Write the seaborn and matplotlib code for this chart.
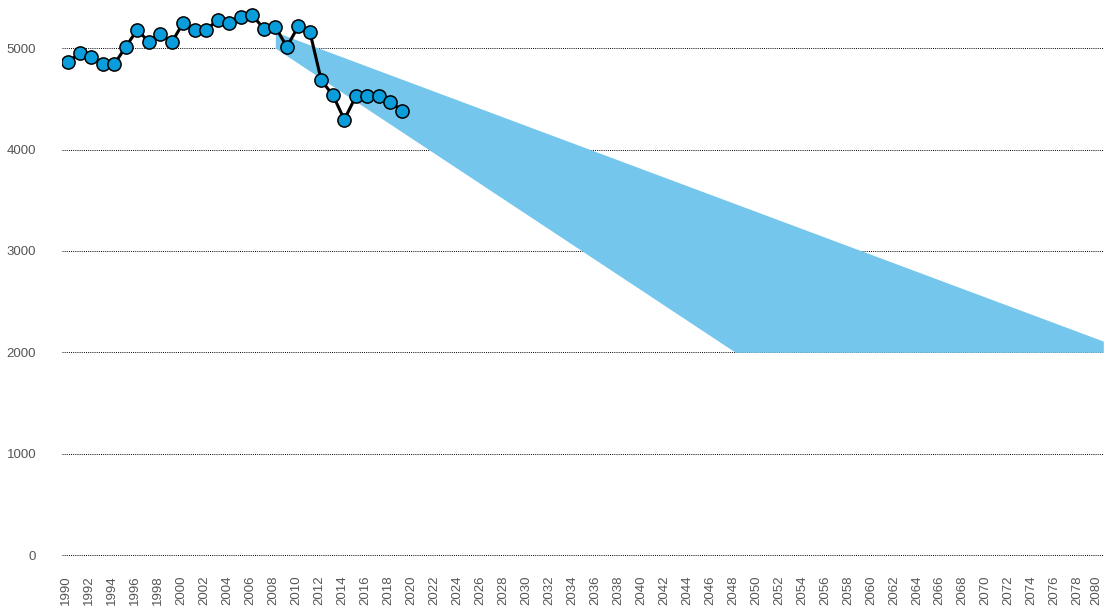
import matplotlib
matplotlib.use("Agg")
import matplotlib.pyplot as plt
import matplotlib.transforms as mtransforms
import seaborn as sns
import pandas as pd

years = list(range(1990, 2020))
values = [4862, 4955, 4911, 4843, 4843, 5013, 5183, 5059, 5144, 5059,
          5252, 5180, 5180, 5281, 5252, 5311, 5324, 5193, 5212, 5013,
          5216, 5163, 4681, 4538, 4295, 4525, 4531, 4525, 4472, 4383]

band_years = [2008, 2048, 2080]
band_low = [5000, 2000, 2000]
band_high = [5160, 3465, 2110]

tick_years = list(range(1990, 2081, 2))
y_ticks = [0, 1000, 2000, 3000, 4000, 5000]

sns.set_theme(style="white")
plt.rcParams['font.family'] = ['Liberation Sans', 'DejaVu Sans']

fig = plt.figure(figsize=(11.04, 6.06), dpi=100)
ax = fig.add_axes([62/1104, 1 - 555/606, (1104 - 62)/1104, 555/606])

for y in y_ticks:
    ax.axhline(y, color="black", linestyle=(0, (1, 1.2)), linewidth=0.7, zorder=1, clip_on=False)

ax.fill_between(band_years, band_low, band_high, color="#74C6EC", linewidth=0, zorder=2)

df = pd.DataFrame({"year": years, "value": values})
sns.lineplot(data=df, x="year", y="value", ax=ax, color="black", linewidth=2.2,
             marker="o", markersize=9.5, markerfacecolor="#0A9DDB",
             markeredgecolor="black", markeredgewidth=1.1, zorder=3)

ax.set_xlim(1989.45, 2080.06)
ax.set_ylim(0, 5475)
ax.set_xticks(tick_years)
ax.set_xticklabels([str(t) for t in tick_years], rotation=90, fontsize=9.5, color="#555555")
ax.set_yticks(y_ticks)
ax.set_yticklabels([str(t) for t in y_ticks], fontsize=9.5, color="#555555")
ax.tick_params(axis="x", length=0, pad=15)
ax.tick_params(axis="y", length=0, pad=18.5)
offset = mtransforms.ScaledTranslation(-2.5/100, 0, fig.dpi_scale_trans)
last_offset = mtransforms.ScaledTranslation(-7/100, 0, fig.dpi_scale_trans)
labels = ax.get_xticklabels()
for i, lbl in enumerate(labels):
    lbl.set_transform(lbl.get_transform() + (last_offset if i == len(labels) - 1 else offset))
ax.set_xlabel("")
ax.set_ylabel("")
ax.grid(False)
for s in ax.spines.values():
    s.set_visible(False)

fig.savefig("out.png", dpi=100)
